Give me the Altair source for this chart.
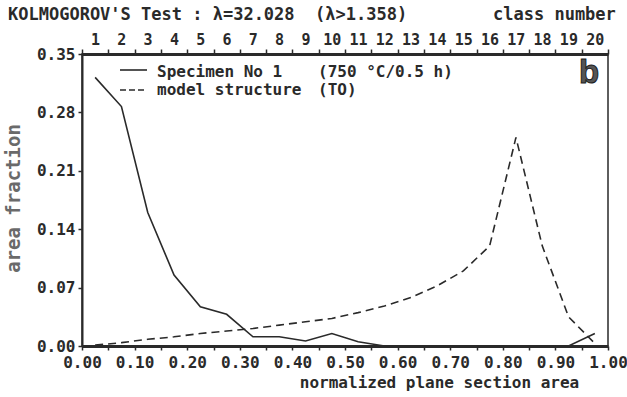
import altair as alt
import pandas as pd

# ---- data ----
class_mid = [0.025, 0.075, 0.125, 0.175, 0.225, 0.275, 0.325, 0.375, 0.425, 0.475,
             0.525, 0.575, 0.625, 0.675, 0.725, 0.775, 0.825, 0.875, 0.925, 0.975]
specimen = [0.322, 0.287, 0.160, 0.085, 0.047, 0.038, 0.011, 0.011, 0.006, 0.015,
            0.005, 0.000, 0.000, 0.000, 0.000, 0.000, 0.000, 0.000, 0.000, 0.015]
model = [0.001, 0.004, 0.008, 0.011, 0.015, 0.018, 0.021, 0.025, 0.029, 0.033,
         0.040, 0.048, 0.058, 0.072, 0.090, 0.120, 0.250, 0.120, 0.035, 0.003]
x_ticks = [0.0, 0.05, 0.10, 0.15, 0.20, 0.25, 0.30, 0.35, 0.40, 0.45, 0.50,
           0.55, 0.60, 0.65, 0.70, 0.75, 0.80, 0.85, 0.90, 0.95, 1.0]
y_ticks = [0.0, 0.07, 0.14, 0.21, 0.28, 0.35]

title_text = "KOLMOGOROV'S Test : λ=32.028 \u00a0(λ>1.358)"
class_text = "class number"
legend_names = ["Specimen No 1", "model structure"]
legend_extra = ["(750 °C/0.5 h)", "(TO)"]

FONT = "DejaVu Sans Mono"
INK = "#2a2a2a"

df_spec = pd.DataFrame({"x": class_mid, "value": specimen, "series": legend_names[0]})
df_model = pd.DataFrame({"x": class_mid, "value": model, "series": legend_names[1]})

W, H = 526, 292

y_enc = alt.Y(
    "value:Q",
    scale=alt.Scale(domain=[0, 0.35], nice=False, zero=False),
    axis=alt.Axis(
        values=y_ticks, format=".2f", grid=False,
        labelFont=FONT, labelFontSize=16, labelFontWeight="bold", labelColor=INK,
        labelPadding=3, tickSize=4, tickWidth=1.5, tickColor=INK,
        domainColor=INK, domainWidth=2,
        title="area fraction", titleFont=FONT, titleFontSize=19,
        titleFontWeight="bold", titleColor="#6a6a6a",
        titleX=-69, titleY=H / 2 - 2, titleAngle=270,
        titleAlign="center", titleBaseline="middle",
    ),
)

x_bottom = alt.X(
    "x:Q",
    scale=alt.Scale(domain=[0, 1], nice=False, zero=False),
    axis=alt.Axis(
        orient="bottom", values=x_ticks, grid=False,
        labelExpr="round(datum.value*20) % 2 == 0 ? format(datum.value, '.2f') : ''",
        labelFont=FONT, labelFontSize=16, labelFontWeight="bold", labelColor=INK,
        labelOverlap=False, labelFlush=False, labelBound=False, labelPadding=4,
        tickSize=4, tickWidth=1.5, tickColor=INK,
        domainColor=INK, domainWidth=3,
        title="normalized plane section area", titleFont=FONT, titleFontSize=16,
        titleFontWeight="bold", titleColor=INK,
        titleX=357, titleY=41, titleAlign="center", titleBaseline="alphabetic",
    ),
)

x_top = alt.X(
    "x:Q",
    scale=alt.Scale(domain=[0, 1], nice=False, zero=False),
    axis=alt.Axis(
        orient="top", values=x_ticks, grid=False,
        labelExpr="datum.value < 0.99 ? format(round(datum.value*20)+1, 'd') : ''",
        labelOffset=13, labelFont=FONT, labelFontSize=15, labelFontWeight="bold",
        labelColor=INK, labelOverlap=False, labelFlush=False, labelBound=False,
        labelPadding=2, tickSize=5, tickWidth=1.5, tickColor=INK,
        domainColor=INK, domainWidth=3, title=None,
    ),
)

spec_line = alt.Chart(df_spec).mark_line(color=INK, strokeWidth=1.6).encode(
    x=x_bottom, y=y_enc
)
model_line = alt.Chart(df_model).mark_line(
    color=INK, strokeWidth=1.6, strokeDash=[8, 5]
).encode(x=x_top, y=y_enc)

# legend drawn inside the plot
leg_df = pd.DataFrame({"name": legend_names, "extra": legend_extra})
leg_solid = alt.Chart(leg_df.iloc[[0]]).mark_rule(color=INK, strokeWidth=1.6).encode(
    x=alt.value(38), x2=alt.value(65), y=alt.value(16)
)
leg_dash = alt.Chart(leg_df.iloc[[1]]).mark_rule(
    color=INK, strokeWidth=1.6, strokeDash=[6, 3]
).encode(x=alt.value(38), x2=alt.value(65), y=alt.value(36))

def txt(data, field, x, y, size=16, align="left", font=FONT, weight="bold"):
    return alt.Chart(data).mark_text(
        font=font, fontSize=size, fontWeight=weight, color=INK,
        align=align, baseline="alphabetic",
    ).encode(text=f"{field}:N", x=alt.value(x), y=alt.value(y))

leg_t1 = txt(leg_df.iloc[[0]], "name", 75, 23)
leg_t1b = txt(leg_df.iloc[[0]], "extra", 236, 23)
leg_t2 = txt(leg_df.iloc[[1]], "name", 75, 41)
leg_t2b = txt(leg_df.iloc[[1]], "extra", 236, 41)

ann_df = pd.DataFrame({"title": [title_text], "cls": [class_text], "panel": ["b"]})
t_title = txt(ann_df, "title", -74, -34, size=17)
t_class = txt(ann_df, "cls", 411, -34, size=17)
t_panel = alt.Chart(ann_df).mark_text(
    font="Liberation Sans", fontSize=33, fontWeight="bold", color="#555555",
    stroke="#1e1e1e", strokeWidth=1, align="center", baseline="alphabetic",
).encode(text="panel:N", x=alt.value(507), y=alt.value(29))

chart = alt.layer(
    spec_line, model_line, leg_solid, leg_dash,
    leg_t1, leg_t1b, leg_t2, leg_t2b, t_title, t_class, t_panel,
).resolve_axis(x="independent").properties(
    width=W, height=H,
    padding={"left": 82, "top": 54, "right": 19, "bottom": 51},
    autosize=alt.AutoSizeParams(type="none"),
    background="white",
).configure_view(stroke=INK, strokeWidth=1.5)

chart.save("out.html", embed_options={"renderer": "svg", "actions": False})
